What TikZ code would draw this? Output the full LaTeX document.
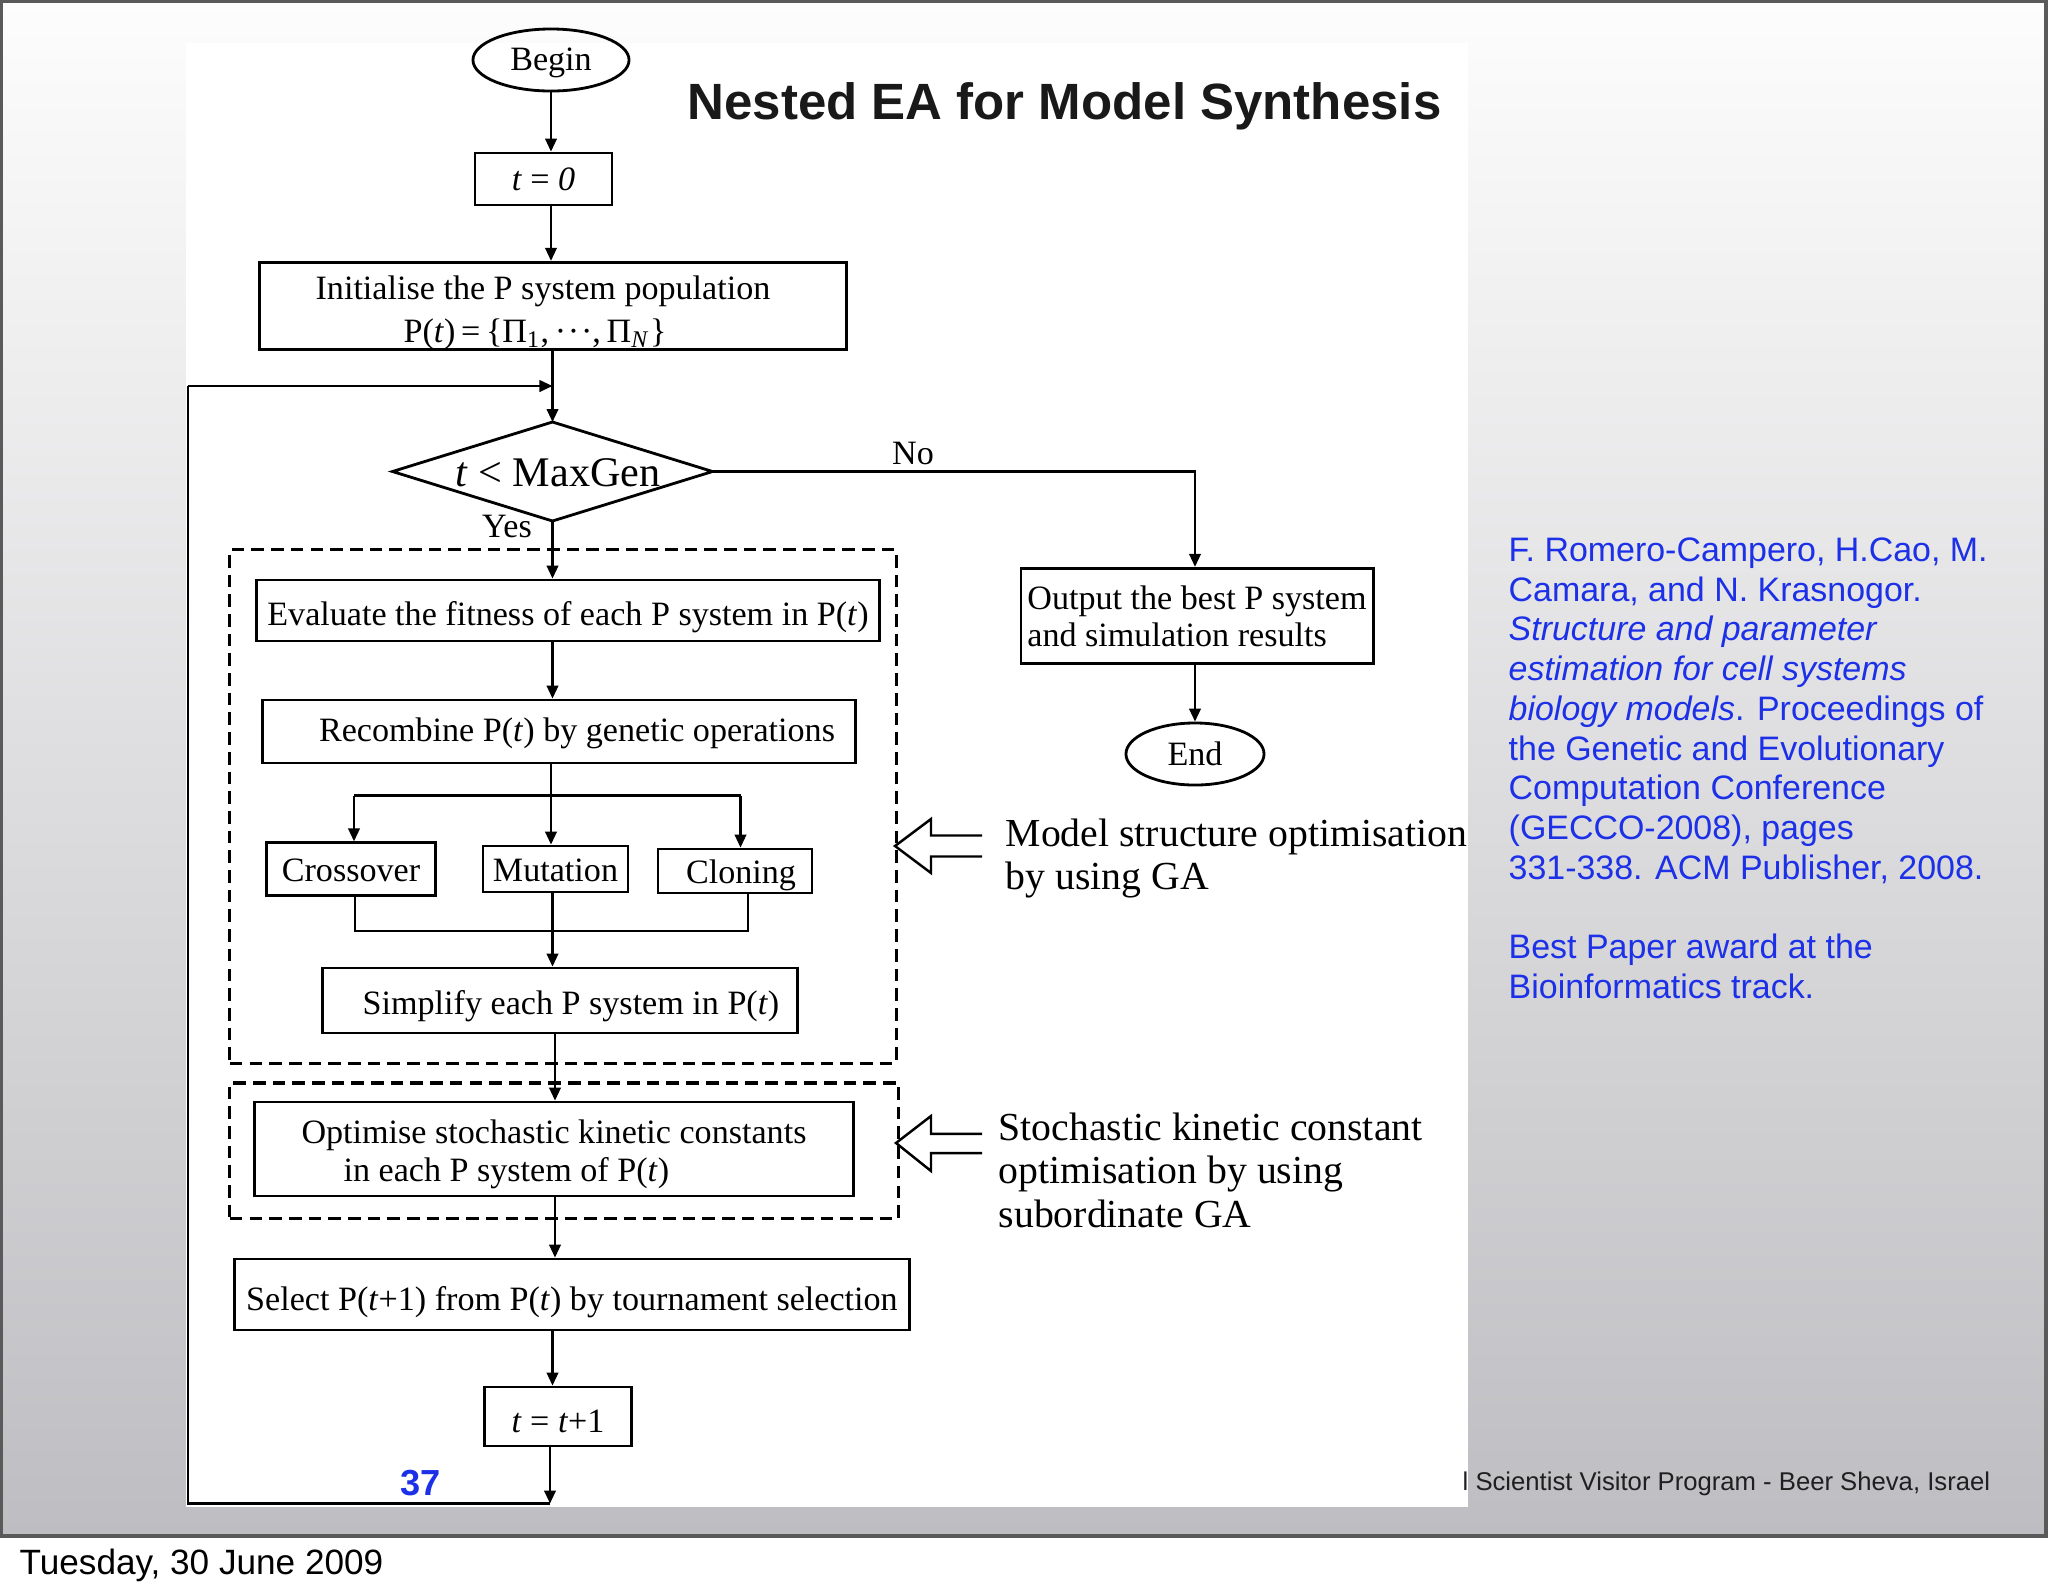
\documentclass[tikz,border=0pt]{standalone}
\usepackage{fontspec}
\setmainfont{Liberation Serif}
\newfontfamily\arial{Liberation Sans}
\usetikzlibrary{arrows.meta,shapes.geometric,calc}
\definecolor{refblue}{RGB}{28,48,232}
\definecolor{bggray}{RGB}{190,189,193}
\definecolor{bgtop}{RGB}{253,253,253}
\definecolor{framegray}{RGB}{90,90,90}
\newcommand{\upr}[1]{\rule{0pt}{#1}}
\begin{document}
\begin{tikzpicture}[x=0.01cm,y=-0.01cm,
  box/.style={draw,line width=0.8pt,inner sep=0pt,font=\fontsize{9.7}{12.3}\selectfont},
  oval/.style={ellipse,draw,line width=0.8pt,inner sep=0pt,font=\fontsize{9.7}{12}\selectfont},
  arr/.style={line width=0.6pt,-{Triangle[length=3.7pt,width=3.3pt]}},
  conn/.style={line width=0.6pt},
  dbox/.style={draw,line width=0.9pt,dash pattern=on 3.6pt off 2pt,inner sep=0pt},
  hollow/.style={line width=0.7pt,line join=miter},
  note/.style={inner sep=0pt,anchor=north west,align=left,font=\fontsize{11.3}{12.4}\selectfont},
  lbl/.style={inner sep=0pt,font=\fontsize{9.7}{12}\selectfont}
  ]
% ---------- slide background ----------
\useasboundingbox (0,0) rectangle (2048,1593);
\fill[white] (0,0) rectangle (2048,1593);
\shade[top color=bgtop, bottom color=bggray] (0,0) rectangle (2046,1536);
\fill[white] (186,43) rectangle (1468,1507);
\node[anchor=base west,inner sep=0pt,font=\arial\fontsize{7.3}{8}\selectfont,text=black!88] (foot) at (1462,1490) {l Scientist Visitor Program - Beer Sheva, Israel};
\draw[framegray,line width=0.9pt] (1,1.5) rectangle (2046,1536);
\node[anchor=base west,inner sep=0pt,font=\arial\fontsize{10}{12}\selectfont] (date) at (19,1574) {Tuesday, 30 June 2009};

% ---------- title ----------
\node[anchor=base west,inner sep=0pt,font=\arial\bfseries\fontsize{14.5}{17}\selectfont,text=black!90] (title) at (687,119) {Nested EA for Model Synthesis};

% ---------- dashed groups ----------
\node[dbox,minimum width=6.66cm,minimum height=5.13cm] (ga) at (563,806.5) {};
\node[dbox,minimum width=6.685cm,minimum height=1.355cm] (sga) at (564.25,1150.75) {};

% ---------- flowchart nodes ----------
\node[oval,minimum width=1.56cm,minimum height=0.62cm] (begin) at (551,60) {\upr{8.1pt}Begin};
\node[box,minimum width=1.37cm,minimum height=0.52cm] (t0) at (543.5,179) {\textit{t} = \textit{0}};
\node[box,minimum width=5.86cm,minimum height=0.875cm,align=center] (init) at (553,306)
  {\upr{10.5pt}Initialise the P system population\hspace*{0.2cm}\\P(\textit{t})\,=\,\{Π\textsubscript{1},\,·\kern0.05em·\kern0.05em·,\,Π\textsubscript{\textit{N}}\}\hspace*{0.36cm}};

\coordinate (dT) at (552.5,422);
\coordinate (dB) at (552.5,521);
\coordinate (dL) at (392.5,471.5);
\coordinate (dR) at (712.5,471.5);
\draw[line width=0.8pt,line join=miter] (dT) -- (dR) -- (dB) -- (dL) -- cycle;
\node[inner sep=0pt,font=\fontsize{12}{14}\selectfont] (dec) at (558,472.5) {\textit{t} < MaxGen};
\node[lbl] (no) at (913,453) {No};
\node[lbl] (yes) at (507,526) {Yes};

\node[box,minimum width=6.22cm,minimum height=0.61cm] (eval) at (568,610.5) {\upr{10.5pt}Evaluate the fitness of each P system in P(\textit{t})};
\node[box,minimum width=5.93cm,minimum height=0.63cm] (recomb) at (559,731.5) {\upr{7.6pt}\hspace*{0.36cm}Recombine P(\textit{t}) by genetic operations};
\node[box,minimum width=1.685cm,minimum height=0.525cm] (cross) at (351,869) {\upr{7.4pt}Crossover};
\node[box,minimum width=1.45cm,minimum height=0.46cm] (mut) at (555.5,869) {\upr{7.4pt}Mutation};
\node[box,minimum width=1.54cm,minimum height=0.44cm] (clon) at (735,871) {\upr{9pt}\hspace*{0.12cm}Cloning};
\node[box,minimum width=4.745cm,minimum height=0.65cm] (simp) at (560,1000.5) {\upr{9.9pt}\hspace*{0.22cm}Simplify each P system in P(\textit{t})};
\node[box,minimum width=5.99cm,minimum height=0.94cm,align=left,font=\fontsize{9.7}{10.8}\selectfont] (opt) at (554,1149)
  {\upr{9.9pt}Optimise stochastic kinetic constants\\\hspace*{0.42cm}in each P system of P(\textit{t})};
\node[box,minimum width=6.74cm,minimum height=0.71cm] (sel) at (572,1294.5) {\upr{11.3pt}Select P(\textit{t}+1) from P(\textit{t}) by tournament selection};
\node[box,minimum width=1.475cm,minimum height=0.59cm] (tt1) at (558,1416.5) {\upr{9pt}\textit{t} = \textit{t}+1};

\node[box,minimum width=3.52cm,minimum height=0.955cm,align=left,font=\fontsize{9.7}{10.6}\selectfont] (out) at (1197,616)
  {Output the best P system\\and simulation results};
\node[oval,minimum width=1.38cm,minimum height=0.62cm] (finish) at (1195,754) {End};

% ---------- connectors ----------
\coordinate (junc) at (552.5,386);
\coordinate (lb) at (550,1503.5);
\coordinate (lbl) at (188,1503.5);
\coordinate (ltl) at (188,386);
\coordinate (nc) at (1195,471.5);
\coordinate (bt) at (551,795.5);
\coordinate (btl) at (354,795.5);
\coordinate (btr) at (740.5,795.5);
\coordinate (bbl) at (355,931);
\coordinate (bbr) at (748,931);
\coordinate (bbm) at (552.5,931);
\coordinate (ax) at (555,0);

\draw[arr] (begin.south) -- (begin.south |- t0.north);
\draw[arr] (begin.south |- t0.south) -- (begin.south |- init.north);
\draw[conn] (dT |- init.south) -- (junc);
\draw[arr] (junc) -- (dT);
\draw[arr] (ltl) -- (junc);
\draw[arr] (dR) -- (nc) -- (nc |- out.north);
\draw[arr] (nc |- out.south) -- (finish.north);
\draw[arr] (dB) -- (dB |- eval.north);
\draw[arr] (dB |- eval.south) -- (dB |- recomb.north);
\draw[conn] (bt |- recomb.south) -- (bt);
\draw[conn] (btl) -- (btr);
\draw[arr] (btl) -- (btl |- cross.north);
\draw[arr] (bt) -- (bt |- mut.north);
\draw[arr] (btr) -- (btr |- clon.north);
\draw[conn] (bbl |- cross.south) -- (bbl) -- (bbr) -- (bbr |- clon.south);
\draw[arr] (bbm |- mut.south) -- (bbm |- simp.north);
\draw[arr] (ax |- simp.south) -- (ax |- opt.north);
\draw[arr] (ax |- opt.south) -- (ax |- sel.north);
\draw[arr] (bbm |- sel.south) -- (bbm |- tt1.north);
\draw[arr] (lb |- tt1.south) -- (lb);
\draw[conn] (lb) -- (lbl) -- (ltl);

% ---------- hollow arrows and notes ----------
\draw[hollow] (982,835.5) -- (931,835.5) -- (931,819) -- (895,846) -- (931,873) -- (931,856.5) -- (982,856.5);
\draw[hollow] (982,1133.8) -- (931,1133.8) -- (931,1116) -- (896,1143) -- (931,1171) -- (931,1153) -- (982,1153);
\node[note] (n1) at (1005,818) {Model structure optimisation\\by using GA};
\node[note] (n2) at (998,1112) {Stochastic kinetic constant\\optimisation by using\\subordinate GA};

% ---------- reference text ----------
\node[anchor=north west,inner sep=0pt,align=left,text=refblue,font=\arial\fontsize{9.65}{11.3}\selectfont] (ref) at (1508,537)
  {F. Romero-Campero, H.Cao, M.\\
   Camara, and N. Krasnogor.\\
   \textit{Structure and parameter}\\
   \textit{estimation for cell systems}\\
   \textit{biology models}. Proceedings of\\
   the Genetic and Evolutionary\\
   Computation Conference\\
   (GECCO-2008), pages\\
   331-338. ACM Publisher, 2008.\\[11.3pt]
   Best Paper award at the\\
   Bioinformatics track.};
\node[anchor=base,inner sep=0pt,font=\arial\bfseries\fontsize{10.3}{12}\selectfont,text=refblue] (pg) at (421,1495) {37};
\end{tikzpicture}
\end{document}
